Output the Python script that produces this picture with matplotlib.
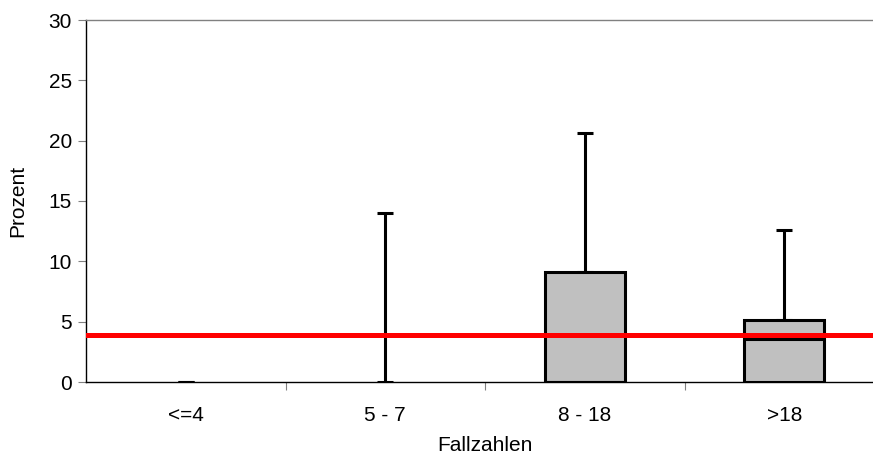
import matplotlib
matplotlib.use("Agg")
import matplotlib.pyplot as plt
import numpy as np

# Data
categories = ['<=4', '5 - 7', '8 - 18', '>18']
q1 = [0.0, 0.0, 0.0, 0.0]
median = [0.0, 0.0, 0.0, 3.6]
q3 = [0.0, 0.0, 9.1, 5.1]
upper = [0.0, 14.0, 20.6, 12.6]
reference = 3.9

plt.rcParams['font.family'] = ['Liberation Sans', 'DejaVu Sans']
plt.rcParams['font.size'] = 15

fig = plt.figure(figsize=(8.73, 4.58), dpi=100)
ax = fig.add_axes([86 / 873, 1 - 382 / 458, 798 / 873, 362 / 458])

x = np.arange(len(categories)) + 0.5
q1 = np.array(q1)
q3 = np.array(q3)
upper = np.array(upper)

# whiskers with caps (lower cap sits on the box top)
ax.errorbar(x, q3, yerr=[np.zeros_like(q3), upper - q3], fmt='none',
            ecolor='black', elinewidth=2.2, capsize=6, capthick=2.2, zorder=2)

# boxes
for xi, lo, hi, med in zip(x, q1, q3, median):
    if hi > lo:
        ax.bar(xi, hi - lo, bottom=lo, width=0.4, color='#c0c0c0',
               edgecolor='black', linewidth=2.2, zorder=3)
        ax.hlines(med, xi - 0.2, xi + 0.2, color='black', linewidth=2.2, zorder=4)

ax.axhline(reference, color='#ff0000', linewidth=3.6, zorder=5)

ax.set_xlim(0, 4)
ax.set_ylim(0, 30)
ax.set_yticks([0, 5, 10, 15, 20, 25, 30])
ax.set_xticks([1, 2, 3])
ax.set_xticklabels([])
ax.set_xticks(x, minor=True)
ax.set_xticklabels(categories, minor=True)
ax.tick_params(axis='x', which='minor', length=0, pad=17)
ax.tick_params(axis='x', which='major', length=6, color='#808080', direction='out')
ax.tick_params(axis='y', length=6, color='#808080', direction='out', pad=4)

ax.spines['right'].set_visible(False)
ax.spines['top'].set_color('#808080')
ax.spines['left'].set_color('black')
ax.spines['bottom'].set_color('black')
for s in ax.spines.values():
    s.set_linewidth(1.0)

ax.set_ylabel('Prozent')
ax.set_xlabel('Fallzahlen', labelpad=8)
ax.yaxis.set_label_coords(-0.074, 0.5)

fig.savefig('out.png', dpi=100)
